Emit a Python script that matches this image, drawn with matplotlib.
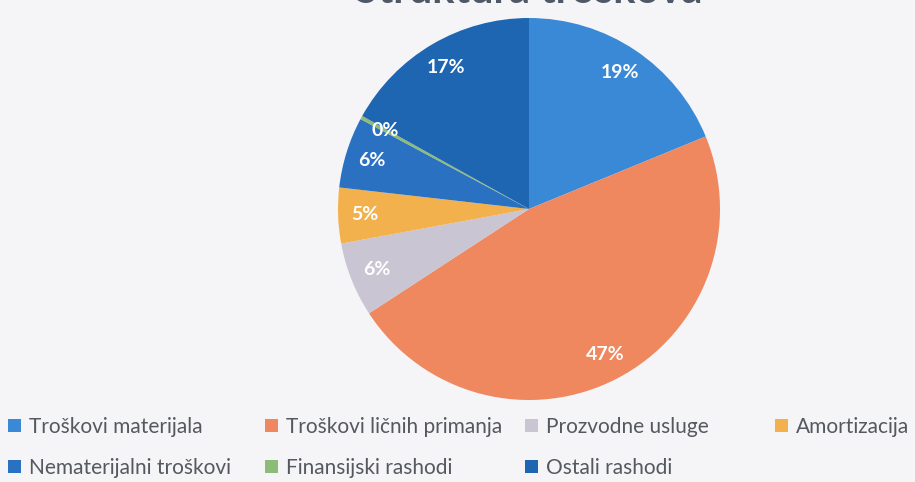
import matplotlib
matplotlib.use("Agg")
from matplotlib import pyplot as plt
from matplotlib.patches import Patch

categories = ["Troškovi materijala", "Troškovi ličnih primanja", "Prozvodne usluge",
              "Amortizacija", "Nematerijalni troškovi", "Finansijski rashodi", "Ostali rashodi"]
shares = [18.8, 47.0, 6.3, 4.7, 6.0, 0.3, 16.9]
colors = ["#3a89d6", "#ef875f", "#c9c5d3", "#f3b14d", "#2b71c2", "#8dbb78", "#1f66b2"]
title = "Struktura troškova"

BG = "#f5f5f7"
TXT = "#55585f"

plt.rcParams["font.family"] = ["Lato", "DejaVu Sans"]

W, H = 915, 482
fig = plt.figure(figsize=(W / 100, H / 100), dpi=100, facecolor=BG)

# pie: centre (529, 209) px, radius 191 px
cx, cy, r = 529, 209, 191
ax = fig.add_axes([(cx - r) / W, (H - cy - r) / H, 2 * r / W, 2 * r / H])
ax.set_facecolor(BG)
wedges, _, autotexts = ax.pie(shares, colors=colors, startangle=90, counterclock=False,
                              autopct="%1.0f%%", pctdistance=0.86,
                              wedgeprops=dict(linewidth=0),
                              textprops=dict(color="white", fontsize=14, fontweight="bold"))
ax.set_xlim(-1, 1)
ax.set_ylim(-1, 1)
ax.set_axis_off()

# title is mostly cut off at the top of the scan
fig.text(cx / W, 1 - 3 / H, title, ha="center", va="baseline",
         fontsize=30, fontweight="bold", color="#4e5866")

# legend laid out in columns like the original
handles = [Patch(facecolor=c, edgecolor="none") for c in colors]
columns = [([0, 4], 8), ([1, 5], 265), ([2, 6], 525), ([3], 775)]
for idx, x in columns:
    fig.legend([handles[i] for i in idx], [categories[i] for i in idx],
               loc="upper left", bbox_to_anchor=(x / W, 1 - 417 / H),
               frameon=False, fontsize=15, labelcolor=TXT,
               handlelength=0.6, handleheight=0.6, handletextpad=0.4,
               labelspacing=1.0, borderpad=0, borderaxespad=0)

fig.savefig("out.png", dpi=100, facecolor=BG)
